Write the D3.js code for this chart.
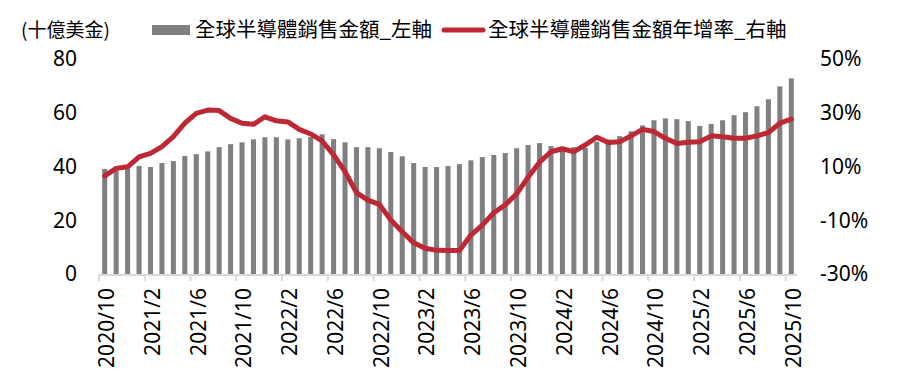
<!DOCTYPE html>
<html lang="zh-Hant">
<head>
<meta charset="UTF-8">
<title>全球半導體銷售金額</title>
<script src="https://d3js.org/d3.v7.min.js"></script>
<style>
  body { margin: 0; background: #fff; }
  .num { font-family: "Noto Sans", sans-serif; font-size: 21px; fill: #000; }
  .cjk { font-family: "Noto Sans CJK TC", sans-serif; fill: #000; }
</style>
</head>
<body>
<svg id="chart" width="899" height="385"></svg>
<script>
// months, 2020/10 .. 2025/10
const months = [
  "2020/10", "2020/11", "2020/12",
  "2021/1", "2021/2", "2021/3", "2021/4", "2021/5", "2021/6", "2021/7", "2021/8", "2021/9", "2021/10", "2021/11", "2021/12",
  "2022/1", "2022/2", "2022/3", "2022/4", "2022/5", "2022/6", "2022/7", "2022/8", "2022/9", "2022/10", "2022/11", "2022/12",
  "2023/1", "2023/2", "2023/3", "2023/4", "2023/5", "2023/6", "2023/7", "2023/8", "2023/9", "2023/10", "2023/11", "2023/12",
  "2024/1", "2024/2", "2024/3", "2024/4", "2024/5", "2024/6", "2024/7", "2024/8", "2024/9", "2024/10", "2024/11", "2024/12",
  "2025/1", "2025/2", "2025/3", "2025/4", "2025/5", "2025/6", "2025/7", "2025/8", "2025/9", "2025/10"
];

// global semiconductor sales, billion USD (left axis)
const sales = [
  39.1, 38.6, 39.2,
  40.2, 39.8, 41.3, 42.0, 43.9, 44.6, 45.6, 47.2, 48.3, 49.0, 50.1, 50.9,
  50.9, 50.1, 50.5, 51.0, 52.0, 50.2, 49.0, 47.2, 47.2, 46.8, 45.4, 43.8,
  41.3, 39.8, 39.8, 40.2, 40.9, 42.3, 43.5, 44.3, 45.0, 46.8, 48.0, 48.7,
  47.6, 46.6, 47.2, 46.9, 49.2, 50.0, 51.3, 53.1, 55.3, 57.2, 57.9, 57.6,
  56.9, 55.1, 55.8, 57.2, 59.1, 60.2, 62.4, 65.0, 69.8, 72.8
];

// year-over-year growth, % (right axis)
const growth = [
  6.5, 9.3, 9.9,
  13.6, 14.9, 17.4, 21.1, 26.1, 29.8, 31.0, 30.8, 27.9, 26.1, 25.7, 28.5,
  27.0, 26.6, 23.8, 22.1, 19.5, 14.3, 8.1, 0.3, -2.5, -4.1, -9.9, -14.3,
  -18.4, -20.4, -21.2, -21.3, -21.3, -15.5, -11.8, -7.2, -4.3, -0.2, 6.0, 11.6,
  15.5, 16.6, 15.5, 18.0, 20.9, 18.9, 19.2, 21.4, 23.8, 23.0, 20.5, 18.6,
  19.0, 19.2, 21.4, 21.1, 20.5, 20.5, 21.4, 22.6, 26.1, 27.6
];

const leftTicks = [0, 20, 40, 60, 80];
const rightTicks = [-30, -10, 10, 30, 50];
const tickMonths = months.filter((d, i) => i % 4 === 0);

const svg = d3.select("#chart");
const plotLeft = 99, plotRight = 797, plotTop = 59, plotBottom = 274;

const x = d3.scaleBand()
  .domain(months)
  .range([plotLeft, plotRight])
  .paddingInner(0.56)
  .paddingOuter(0.28);
const step = x.step();

const yL = d3.scaleLinear().domain([0, 80]).range([plotBottom, plotTop]);
const yR = d3.scaleLinear().domain([-30, 50]).range([plotBottom, plotTop]);

// bars
svg.append("g").selectAll("rect")
  .data(sales)
  .join("rect")
  .attr("x", (d, i) => x(months[i]))
  .attr("y", d => yL(d))
  .attr("width", x.bandwidth())
  .attr("height", d => yL(0) - yL(d))
  .attr("fill", "#808080");

// x axis (ticks between categories)
const xAxis = svg.append("g");
xAxis.append("line")
  .attr("x1", plotLeft).attr("x2", plotRight)
  .attr("y1", plotBottom + 1).attr("y2", plotBottom + 1)
  .attr("stroke", "#d9d9d9").attr("stroke-width", 2);
xAxis.selectAll(".tk")
  .data(tickMonths)
  .join("line")
  .attr("class", "tk")
  .attr("x1", d => x(d) - step * 0.28)
  .attr("x2", d => x(d) - step * 0.28)
  .attr("y1", plotBottom).attr("y2", plotBottom + 7)
  .attr("stroke", "#d9d9d9").attr("stroke-width", 2);
xAxis.selectAll(".lbl")
  .data(tickMonths)
  .join("text")
  .attr("class", "num lbl")
  .attr("text-anchor", "end")
  .attr("dy", "0.35em")
  .attr("transform", d => `translate(${x(d) + x.bandwidth() / 2 + 2},288) rotate(-90)`)
  .text(d => d);

// left axis labels
svg.append("g").selectAll("text")
  .data(leftTicks)
  .join("text")
  .attr("class", "num")
  .attr("x", 77)
  .attr("y", d => yL(d))
  .attr("dy", "0.35em")
  .attr("text-anchor", "end")
  .text(d => d);

// right axis labels
svg.append("g").selectAll("text")
  .data(rightTicks)
  .join("text")
  .attr("class", "num")
  .attr("x", 820)
  .attr("y", d => yR(d))
  .attr("dy", "0.35em")
  .text(d => d + "%");

// growth line
const line = d3.line()
  .x((d, i) => x(months[i]) + x.bandwidth() / 2)
  .y(d => yR(d));
svg.append("path")
  .datum(growth)
  .attr("d", line)
  .attr("fill", "none")
  .attr("stroke", "#BE2834")
  .attr("stroke-width", 5)
  .attr("stroke-linejoin", "round")
  .attr("stroke-linecap", "round");

// unit and legend
svg.append("text").attr("class", "cjk")
  .attr("x", 21).attr("y", 30).attr("dy", "0.35em")
  .style("font-size", "19px")
  .text("(十億美金)");

svg.append("rect")
  .attr("x", 152).attr("y", 25).attr("width", 38).attr("height", 10)
  .attr("fill", "#808080");
svg.append("text").attr("class", "cjk")
  .attr("x", 195).attr("y", 30).attr("dy", "0.35em")
  .style("font-size", "20.5px")
  .text("全球半導體銷售金額_左軸");

svg.append("line")
  .attr("x1", 444).attr("x2", 483).attr("y1", 30).attr("y2", 30)
  .attr("stroke", "#BE2834").attr("stroke-width", 5)
  .attr("stroke-linecap", "round");
svg.append("text").attr("class", "cjk")
  .attr("x", 488).attr("y", 30).attr("dy", "0.35em")
  .style("font-size", "20.5px")
  .text("全球半導體銷售金額年增率_右軸");
</script>
</body>
</html>
